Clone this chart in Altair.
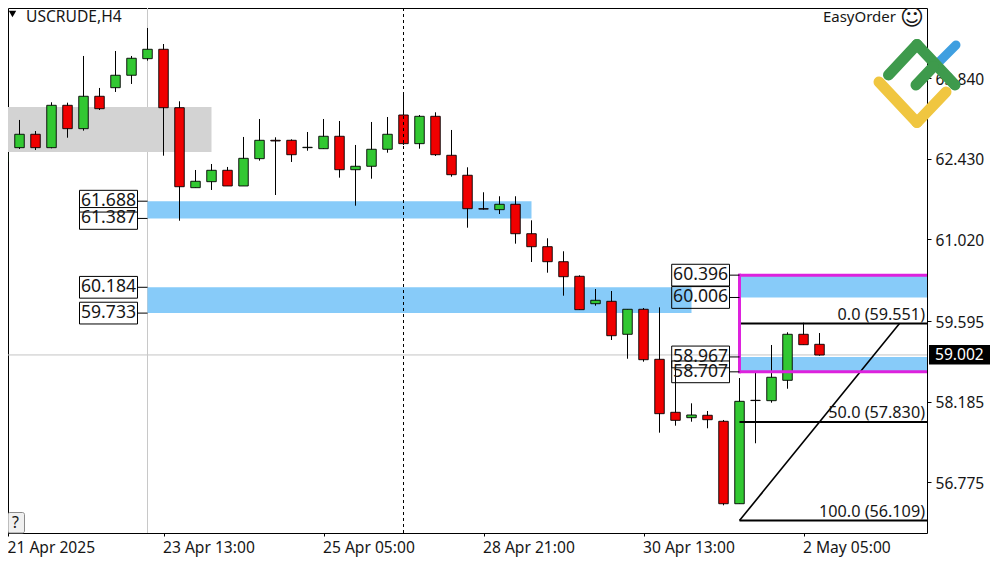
import altair as alt
import pandas as pd

# ---- candles (index 0..51) ----
opens = [62.382,62.623,62.857,62.623,63.363,62.955,63.521,63.671,63.888,64.178,64.342,63.321,61.924,62.029,62.228,61.954,62.431,62.752,62.752,62.623,62.605,62.822,62.238,62.298,62.595,63.194,62.693,63.171,62.490,62.141,61.557,61.540,61.634,61.120,60.893,60.631,60.376,59.897,59.939,59.363,59.800,58.926,58.000,57.906,57.948,57.843,56.403,58.210,58.203,58.559,59.363,59.188]
closes = [62.521,62.857,62.623,63.363,62.955,63.521,63.304,63.888,64.185,64.342,63.321,61.941,62.036,62.228,61.954,62.437,62.752,62.740,62.500,62.630,62.822,62.238,62.298,62.595,62.857,62.693,63.171,62.500,62.151,61.557,61.550,61.634,61.120,60.893,60.631,60.369,59.793,59.957,59.338,59.800,58.919,57.976,57.860,57.953,57.871,56.403,58.192,58.205,58.612,59.363,59.181,59.001]
highs = [62.797,63.107,62.914,63.416,63.409,64.225,63.666,64.312,64.225,64.714,64.434,63.433,62.233,62.338,62.286,62.810,63.124,62.804,62.769,62.897,63.124,63.089,62.670,63.072,63.159,63.591,63.194,63.241,62.932,62.280,61.844,61.774,61.774,61.354,61.040,60.813,60.393,60.154,60.119,59.800,59.822,59.834,58.792,58.157,58.023,57.866,58.599,58.687,59.176,59.398,59.565,59.385]
lows = [62.116,62.600,62.582,62.612,62.797,62.920,63.281,63.596,63.736,64.143,62.483,61.347,61.924,61.884,61.954,61.954,62.396,61.796,62.373,62.570,62.600,62.099,61.609,62.081,62.535,62.670,62.605,62.478,62.116,61.225,61.540,61.464,60.946,60.626,60.439,60.037,59.787,59.862,59.263,58.936,58.884,57.644,57.766,57.836,57.721,56.375,56.403,57.459,58.168,58.412,59.181,58.989]

# ---- zones ----
zone_low = [62.548, 61.387, 59.733, 60.006, 58.707]
zone_high = [63.334, 61.688, 60.184, 60.396, 58.967]
zone_start = [0, 9, 9, 46, 46]
zone_end = [13, 33, 43, 57.71875, 57.71875]
zone_fill = ["#d3d3d3", "#87cbf9", "#87cbf9", "#87cbf9", "#87cbf9"]

# ---- labels ----
left_levels = [61.688, 61.387, 60.184, 59.733]
right_levels = [60.396, 60.006, 58.967, 58.707]
fib_levels = [59.551, 57.830, 56.109]
fib_texts = ["0.0 (59.551)", "50.0 (57.830)", "100.0 (56.109)"]
y_ticks = [63.840, 62.430, 61.020, 59.595, 58.185, 56.775]
x_ticks = [0.28125, 10, 20, 30, 40, 50]
x_labels = ["21 Apr 2025", "23 Apr 13:00", "25 Apr 05:00", "28 Apr 21:00", "30 Apr 13:00", "2 May 05:00"]
last_price = 59.002

FONT = "Noto Sans"
INK = "#161616"
AXFS = 15.6
LBFS = 17.6

XS = alt.Scale(domain=[0.28125, 57.71875], nice=False, zero=False, padding=0)
YS = alt.Scale(domain=[55.8915, 65.063], nice=False, zero=False, padding=0)

axis_x = alt.Axis(values=x_ticks, title=None, grid=False, domain=False, tickColor="black", tickSize=3,
                  labelExpr="[" + ",".join("'%s'" % s for s in x_labels) + "][round(datum.value/10)]",
                  labelFont=FONT, labelFontSize=AXFS, labelColor=INK, labelAlign="left", labelOffset=-1,
                  labelPadding=4, labelBaseline="top", labelFlush=False, labelOverlap=False)
axis_y = alt.Axis(values=y_ticks, title=None, grid=False, domain=False, orient="right", tickColor="black", tickSize=4,
                  format=".3f", labelFont=FONT, labelFontSize=AXFS, labelColor=INK, labelPadding=4, labelOffset=1,
                  labelOverlap=False, labelFlush=False)

XA = alt.X("i:Q", scale=XS, axis=axis_x)
YA = lambda f: alt.Y(f, type="quantitative", scale=YS, axis=axis_y)
X2 = alt.X2("i2:Q")

candles = pd.DataFrame({"i": range(len(opens)), "o": opens, "c": closes, "h": highs, "l": lows})
candles["fill"] = ["#32c832" if c >= o else "#f00000" for o, c in zip(opens, closes)]
zones = pd.DataFrame({"i": zone_start, "i2": zone_end, "y0": zone_low, "y1": zone_high, "fill": zone_fill})


def px(x):
    return alt.value(x - 8)


hline = alt.Chart(pd.DataFrame({"i": [0.28125], "i2": [57.71875], "p": [last_price]})).mark_rule(
    color="#c4c4c4", strokeWidth=1).encode(x=XA, x2=X2, y=YA("p"))
vline = alt.Chart(pd.DataFrame({"i": [9]})).mark_rule(color="#c8c8c8", strokeWidth=1).encode(x=XA)

zone_layer = alt.Chart(zones).mark_rect().encode(
    x=XA, x2=X2, y=YA("y0"), y2=alt.Y2("y1"), fill=alt.Fill("fill:N", scale=None))

wicks = alt.Chart(candles).mark_rule(color="black", strokeWidth=1).encode(x=XA, y=YA("l"), y2=alt.Y2("h"))
bodies = alt.Chart(candles).mark_bar(size=9.5, stroke="black", strokeWidth=1, strokeOpacity=0.9).encode(
    x=XA, y=YA("o"), y2=alt.Y2("c"), fill=alt.Fill("fill:N", scale=None))

dash = alt.Chart(pd.DataFrame({"i": [25]})).mark_rule(color="black", strokeWidth=1, strokeDash=[3, 3]).encode(x=XA)

fib_df = pd.DataFrame({"i": [46] * 3, "i2": [57.71875] * 3, "p": fib_levels, "t": fib_texts})
fib_lines = alt.Chart(fib_df).mark_rule(color="black", strokeWidth=2).encode(x=XA, x2=X2, y=YA("p"))
fib_text = alt.Chart(fib_df).mark_text(font=FONT, fontSize=16.2, color=INK, align="right", baseline="bottom", dy=-1).encode(
    x=px(925), y=YA("p"), text="t:N")
diag = alt.Chart(pd.DataFrame({"i": [46, 56], "p": [fib_levels[2], fib_levels[0]]})).mark_line(
    color="black", strokeWidth=1.6).encode(x=XA, y=YA("p"))

# magenta frame: top, bottom and left sides; the right side sits under the chart border
mag_h = alt.Chart(pd.DataFrame({"i": [46, 46], "i2": [57.71875, 57.71875], "p": [right_levels[0], right_levels[3]]})).mark_rule(
    color="#dd22dd", strokeWidth=3).encode(x=XA, x2=X2, y=YA("p"))
mag_v = alt.Chart(pd.DataFrame({"i": [46], "y0": [right_levels[3]], "y1": [right_levels[0]]})).mark_rule(
    color="#dd22dd", strokeWidth=3, strokeCap="square").encode(x=XA, y=YA("y0"), y2=alt.Y2("y1"))


def level_labels(levels, x0, x1, xc):
    d = pd.DataFrame({"p": levels, "t": ["%.3f" % v for v in levels]})
    boxes = alt.Chart(d).transform_calculate(p0="datum.p-0.19", p1="datum.p+0.19").mark_rect(
        fillOpacity=0, stroke="black", strokeWidth=1).encode(x=px(x0), x2=px(x1), y=YA("p0"), y2=alt.Y2("p1"))
    conn = alt.Chart(d).mark_rule(color="black", strokeWidth=1).encode(x=px(x1), x2=px(xc), y=YA("p"))
    txt = alt.Chart(d).mark_text(font=FONT, fontSize=LBFS, color=INK, align="center", baseline="middle").encode(
        x=px((x0 + x1) / 2), y=YA("p"), text="t:N")
    return [boxes, conn, txt]


left_lab = level_labels(left_levels, 79.5, 137.5, 147.5)
right_lab = level_labels(right_levels, 671.7, 729.5, 739.5)

# last price tag
tag = alt.Chart().mark_rect(fill="black").encode(x=px(929), x2=px(990), y=px(345), y2=px(364.5))
tag_t = alt.Chart().mark_text(font=FONT, fontSize=AXFS, color="white", align="left", baseline="middle", text="%.3f" % last_price).encode(
    x=px(935), y=px(355))

# header texts
title = alt.Chart().mark_text(font=FONT, fontSize=AXFS, color=INK, align="left", baseline="middle", text="USCRUDE,H4").encode(
    x=px(26), y=px(17))
tri = alt.Chart().mark_point(shape="triangle-down", filled=True, color="black", opacity=1, size=55).encode(x=px(12.5), y=px(14))
easy = alt.Chart().mark_text(font=FONT, fontSize=15, color=INK, align="right", baseline="middle", text="EasyOrder").encode(
    x=px(896), y=px(17))
smile = alt.Chart().mark_text(font="DejaVu Sans", fontSize=23, color=INK, align="center", baseline="middle", text="\u263A").encode(
    x=px(912), y=px(18))
qbox = alt.Chart().mark_rect(fill="#f0f0f0", stroke="#8a8a8a", cornerRadius=2).encode(x=px(8), x2=px(24.5), y=px(512.5), y2=px(533))
qtxt = alt.Chart().mark_text(font=FONT, fontSize=16, color=INK, align="center", baseline="middle", text="?").encode(x=px(15.5), y=px(523))


def seg(a, b, color, w):
    return alt.Chart().mark_rule(color=color, strokeWidth=w, strokeCap="round").encode(
        x=px(a[0]), y=px(a[1]), x2=px(b[0]), y2=px(b[1]))


logo = [
    seg((938, 63), (956, 45), "#3f9fe0", 9),
    seg((879, 82), (917, 122.5), "#f0c640", 11),
    seg((917, 122.5), (946, 92), "#f0c640", 11),
    seg((888.5, 75), (917, 44.5), "#3e9a4c", 11),
    seg((917, 44.5), (955, 85), "#3e9a4c", 11),
    seg((916, 85), (933.5, 66.5), "#3e9a4c", 11),
]

layers = [hline, vline, zone_layer, wicks, bodies, dash, fib_lines, diag, mag_h, mag_v, fib_text] + left_lab + right_lab + [
    tag, tag_t, title, tri, easy, smile, qbox, qtxt] + logo

chart = alt.layer(*layers).properties(
    width=919, height=525, padding={"left": 0, "top": 0, "right": 65, "bottom": 29},
    autosize=alt.AutoSizeParams(type="none"), background="white",
).configure_view(stroke="black", strokeWidth=1)

chart.save("out.html", embed_options={"renderer": "svg", "actions": False})
